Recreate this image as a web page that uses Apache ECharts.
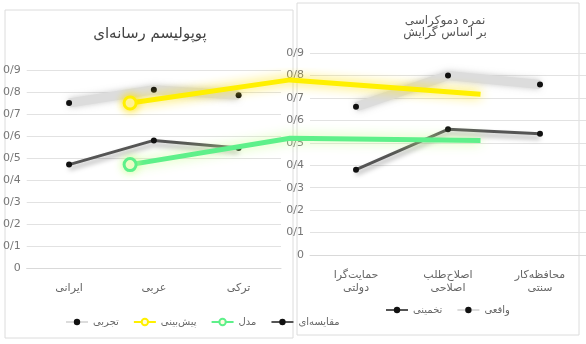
<!DOCTYPE html>
<html><head><meta charset="utf-8">
<script src="https://cdn.jsdelivr.net/npm/echarts@6/dist/echarts.min.js"></script>
<style>html,body{margin:0;padding:0;background:#fff}#c{width:586px;height:344px}</style>
</head><body><div id="c"></div>
<script>
// ---- data ----
const leftTitle = 'پوپولیسم رسانه‌ای';
const rightTitle = 'نمره دموکراسی\nبر اساس گرایش';
const leftCats = ['ایرانی', 'عربی', 'ترکی'];
const rightCats = ['حمایت‌گرا\nدولتی', 'اصلاح‌طلب\nاصلاحی', 'محافظه‌کار\nسنتی'];
const yTicks = [0, 0.1, 0.2, 0.3, 0.4, 0.5, 0.6, 0.7, 0.8, 0.9];
const leftGray = [0.75, 0.81, 0.785];
const leftDark = [0.47, 0.58, 0.545];
const rightGray = [0.66, 0.80, 0.76];
const rightDark = [0.38, 0.56, 0.54];
// glowing lines crossing both panels (x in percent of chart width)
const glowX = [22.2, 49.5, 82];
const yellowVals = [0.75, 0.855, 0.79];
const greenVals = [0.47, 0.59, 0.58];
const names = {g: 'تجربی', d: 'مقایسه‌ای', y: 'پیش‌بینی', n: 'مدل', rg: 'واقعی', rd: 'تخمینی'};

const font = 'DejaVu Sans';
const fmt = v => String(Math.round(v * 10) / 10).replace('.', '/');
const chart = echarts.init(document.getElementById('c'));
const yAxisBase = (gi) => ({
  gridIndex: gi, type: 'value', min: 0, max: 0.9, interval: 0.1,
  axisLine: {show: false}, axisTick: {show: false},
  axisLabel: {color: '#777', fontSize: 11, fontFamily: font, formatter: fmt, margin: 6},
  splitLine: {lineStyle: {color: '#e2e2e2'}}
});
const xCat = (gi, data) => ({
  gridIndex: gi, type: 'category', data,
  axisLine: {lineStyle: {color: '#d9d9d9'}}, axisTick: {show: false},
  axisLabel: {color: '#666', fontSize: 11, fontFamily: font, margin: 14, lineHeight: 13}
});
const grayLine = (name, xi, data) => ({
  name, type: 'line', xAxisIndex: xi, yAxisIndex: xi, data,
  symbol: 'circle', symbolSize: 6, itemStyle: {color: '#111'},
  lineStyle: {width: 9, color: '#dcdcdc', shadowBlur: 6, shadowColor: 'rgba(180,180,180,0.7)'},
  z: 2
});
const darkLine = (name, xi, data) => ({
  name, type: 'line', xAxisIndex: xi, yAxisIndex: xi, data,
  symbol: 'circle', symbolSize: 6, itemStyle: {color: '#111'},
  lineStyle: {width: 3, color: '#555', shadowBlur: 5, shadowColor: 'rgba(0,0,0,0.35)', shadowOffsetY: 4},
  z: 3
});
const glow = (name, vals, color, shadow) => ({
  name, type: 'line', xAxisIndex: 2, yAxisIndex: 2,
  data: glowX.map((x, i) => [x, vals[i]]),
  symbol: 'circle', symbolSize: (v, p) => p.dataIndex === 0 ? 12 : 0,
  itemStyle: {color: '#fffbe0', borderColor: color, borderWidth: 3, shadowBlur: 8, shadowColor: shadow},
  lineStyle: {width: 5, color, shadowBlur: 12, shadowColor: shadow},
  z: 5
});

chart.setOption({
  animation: false,
  backgroundColor: '#fff',
  textStyle: {fontFamily: font},
  title: [
    {text: leftTitle, left: 145, top: 22, textAlign: 'center',
     textStyle: {fontSize: 15, fontWeight: 'normal', color: '#444', fontFamily: font}},
    {text: rightTitle, left: 440, top: 10, textAlign: 'center',
     textStyle: {fontSize: 12, fontWeight: 'normal', color: '#555', fontFamily: font, lineHeight: 12}}
  ],
  grid: [
    {left: 26, right: 305, top: 70, bottom: 76},
    {left: 310, right: 0, top: 53, bottom: 89},
    {left: 0, right: 0, top: 70, bottom: 76}
  ],
  xAxis: [
    xCat(0, leftCats), xCat(1, rightCats),
    {gridIndex: 2, type: 'value', min: 0, max: 100, show: false}
  ],
  yAxis: [yAxisBase(0), yAxisBase(1), {gridIndex: 2, type: 'value', min: 0, max: 0.9, show: false}],
  legend: [
    {data: [names.g, names.y, names.n, names.d], left: 60, top: 312, itemWidth: 22, itemHeight: 8,
     itemGap: 14, textStyle: {fontSize: 10, color: '#666', fontFamily: font}},
    {data: [names.rd, names.rg], left: 380, top: 300, itemWidth: 22, itemHeight: 8,
     itemGap: 14, textStyle: {fontSize: 10, color: '#666', fontFamily: font}}
  ],
  graphic: [
    {type: 'rect', shape: {x: 5, y: 10, width: 288, height: 328}, style: {fill: 'none', stroke: '#dcdcdc'}, silent: true},
    {type: 'rect', shape: {x: 297, y: 3, width: 282, height: 332}, style: {fill: 'none', stroke: '#dcdcdc'}, silent: true}
  ],
  series: [
    grayLine(names.g, 0, leftGray),
    darkLine(names.d, 0, leftDark),
    grayLine(names.rg, 1, rightGray),
    darkLine(names.rd, 1, rightDark),
    glow(names.y, yellowVals, '#fff000', 'rgba(255,225,0,0.95)'),
    glow(names.n, greenVals, '#5ef08a', 'rgba(200,255,140,0.9)')
  ]
});
</script></body></html>
